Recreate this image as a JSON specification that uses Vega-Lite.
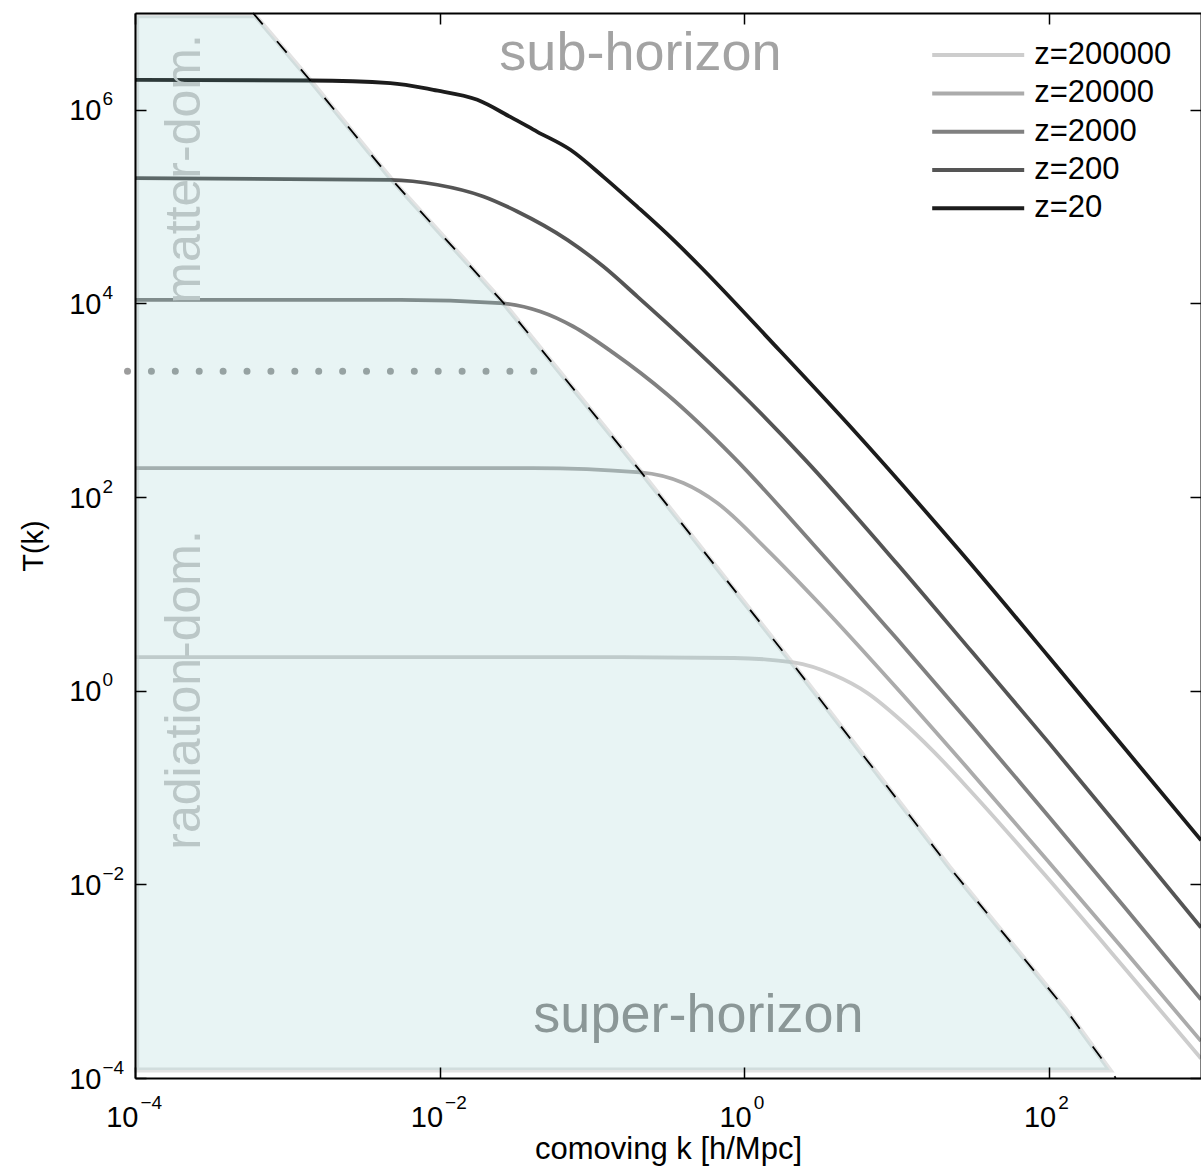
{
  "$schema": "https://vega.github.io/schema/vega-lite/v6.json",
  "width": 1066,
  "height": 1065,
  "autosize": {"type": "none"},
  "padding": {"left": 135, "top": 13, "right": 0, "bottom": 92},
  "background": "white",
  "config": {"view": {"stroke": null}, "font": "Liberation Sans", "axis": {"grid": false}},
  "datasets": {
    "curves": [
      {"z": "z=20", "k": 0.0001, "T": 2042000},
      {"z": "z=20", "k": 0.001413, "T": 2009000},
      {"z": "z=20", "k": 0.004742, "T": 1888000},
      {"z": "z=20", "k": 0.009099, "T": 1607000},
      {"z": "z=20", "k": 0.0177, "T": 1268000},
      {"z": "z=20", "k": 0.02917, "T": 845000},
      {"z": "z=20", "k": 0.04385, "T": 593000},
      {"z": "z=20", "k": 0.07228, "T": 386400},
      {"z": "z=20", "k": 0.1191, "T": 203200},
      {"z": "z=20", "k": 0.1991, "T": 99500},
      {"z": "z=20", "k": 0.3133, "T": 51900},
      {"z": "z=20", "k": 0.5012, "T": 25120},
      {"z": "z=20", "k": 1.585, "T": 3715},
      {"z": "z=20", "k": 4.842, "T": 561},
      {"z": "z=20", "k": 25.59, "T": 28.7},
      {"z": "z=20", "k": 100, "T": 2.244},
      {"z": "z=20", "k": 316.2, "T": 0.2529},
      {"z": "z=20", "k": 1000, "T": 0.02858},
      {"z": "z=200", "k": 0.0001, "T": 197200},
      {"z": "z=200", "k": 0.004742, "T": 189200},
      {"z": "z=200", "k": 0.00966, "T": 168300},
      {"z": "z=200", "k": 0.01936, "T": 127400},
      {"z": "z=200", "k": 0.03236, "T": 89130},
      {"z": "z=200", "k": 0.06902, "T": 45400},
      {"z": "z=200", "k": 0.1191, "T": 24040},
      {"z": "z=200", "k": 0.1991, "T": 11780},
      {"z": "z=200", "k": 0.399, "T": 4365},
      {"z": "z=200", "k": 0.849, "T": 1413},
      {"z": "z=200", "k": 2.512, "T": 243.8},
      {"z": "z=200", "k": 10, "T": 20.84},
      {"z": "z=200", "k": 31.62, "T": 2.477},
      {"z": "z=200", "k": 100, "T": 0.2911},
      {"z": "z=200", "k": 316.2, "T": 0.03266},
      {"z": "z=200", "k": 1000, "T": 0.003581},
      {"z": "z=2000", "k": 0.0001, "T": 10910},
      {"z": "z=2000", "k": 0.005521, "T": 10910},
      {"z": "z=2000", "k": 0.02506, "T": 10090},
      {"z": "z=2000", "k": 0.04581, "T": 8260},
      {"z": "z=2000", "k": 0.07551, "T": 5781},
      {"z": "z=2000", "k": 0.1384, "T": 3090},
      {"z": "z=2000", "k": 0.3126, "T": 1148},
      {"z": "z=2000", "k": 0.849, "T": 260.6},
      {"z": "z=2000", "k": 2.851, "T": 32.43},
      {"z": "z=2000", "k": 10, "T": 3.475},
      {"z": "z=2000", "k": 31.62, "T": 0.4276},
      {"z": "z=2000", "k": 100, "T": 0.05023},
      {"z": "z=2000", "k": 316.2, "T": 0.005768},
      {"z": "z=2000", "k": 1000, "T": 0.0006471},
      {"z": "z=20000", "k": 0.0001, "T": 199.5},
      {"z": "z=20000", "k": 0.0413, "T": 199.5},
      {"z": "z=20000", "k": 0.2084, "T": 179.9},
      {"z": "z=20000", "k": 0.399, "T": 139.6},
      {"z": "z=20000", "k": 0.6668, "T": 86.9},
      {"z": "z=20000", "k": 1.422, "T": 28.38},
      {"z": "z=20000", "k": 3.162, "T": 7.78},
      {"z": "z=20000", "k": 10, "T": 1.074},
      {"z": "z=20000", "k": 31.62, "T": 0.1384},
      {"z": "z=20000", "k": 100, "T": 0.01702},
      {"z": "z=20000", "k": 316.2, "T": 0.002046},
      {"z": "z=20000", "k": 1000, "T": 0.0002404},
      {"z": "z=200000", "k": 0.0001, "T": 2.228},
      {"z": "z=200000", "k": 0.1138, "T": 2.228},
      {"z": "z=200000", "k": 0.8511, "T": 2.178},
      {"z": "z=200000", "k": 2.109, "T": 1.959},
      {"z": "z=200000", "k": 3.864, "T": 1.462},
      {"z": "z=200000", "k": 6.457, "T": 0.9462},
      {"z": "z=200000", "k": 10.64, "T": 0.4989},
      {"z": "z=200000", "k": 17.5, "T": 0.2366},
      {"z": "z=200000", "k": 31.62, "T": 0.0875},
      {"z": "z=200000", "k": 100, "T": 0.01127},
      {"z": "z=200000", "k": 316.2, "T": 0.001355},
      {"z": "z=200000", "k": 1000, "T": 0.0001592}
    ],
    "horizon": [
      {"k": 0.0005957, "T": 10000000},
      {"k": 0.001416, "T": 2009000},
      {"k": 0.004753, "T": 197200},
      {"k": 0.02636, "T": 10070},
      {"k": 0.2094, "T": 183.2},
      {"k": 2.07, "T": 1.923},
      {"k": 22.13, "T": 0.01524},
      {"k": 129.4, "T": 0.0005093},
      {"k": 275.4, "T": 0.0001}
    ],
    "shade": [
      {"k": 0.0001026, "T": 9376000, "T2": 0.0001211},
      {"k": 0.0006166, "T": 9376000, "T2": 0.0001211},
      {"k": 0.001416, "T": 2009000, "T2": 0.0001211},
      {"k": 0.004753, "T": 197200, "T2": 0.0001211},
      {"k": 0.02636, "T": 10070, "T2": 0.0001211},
      {"k": 0.2094, "T": 183.2, "T2": 0.0001211},
      {"k": 2.07, "T": 1.923, "T2": 0.0001211},
      {"k": 22.13, "T": 0.01524, "T2": 0.0001211},
      {"k": 129.4, "T": 0.0005093, "T2": 0.0001211},
      {"k": 251.8, "T": 0.0001211, "T2": 0.0001211}
    ],
    "dots": [
      {"k": 0.0000893, "T": 2000},
      {"k": 0.04285, "T": 2000}
    ]
  },
  "layer": [
    {
      "data": {"name": "shade"},
      "mark": {"type": "area", "fill": "transparent", "stroke": "#e3e3e3", "strokeWidth": 5, "strokeJoin": "miter"},
      "encoding": {
        "x": {"field": "k", "type": "quantitative", "scale": {"type": "log", "domain": [0.0001, 1000], "nice": false},
          "axis": {"orient": "top", "values": [0.0001, 0.01, 1, 100], "labels": false, "title": null, "tickSize": -11, "tickColor": "black", "tickWidth": 1.5, "domain": true, "domainColor": "black", "domainWidth": 2, "zindex": 2}},
        "y": {"field": "T", "type": "quantitative", "scale": {"type": "log", "domain": [0.0001, 10000000], "nice": false},
          "axis": {"orient": "right", "values": [0.0001, 0.01, 1, 100, 10000, 1000000], "labels": false, "title": null, "tickSize": -11, "tickColor": "black", "tickWidth": 1.5, "domain": true, "domainColor": "black", "domainWidth": 2, "zindex": 2}},
        "y2": {"field": "T2"}
      }
    },
    {
      "data": {"name": "dots"},
      "mark": {"type": "line", "color": "#9c9c9c", "strokeWidth": 7, "strokeCap": "round", "strokeDash": [0, 23.9], "clip": false},
      "encoding": {
        "x": {"field": "k", "type": "quantitative", "axis": null},
        "y": {"field": "T", "type": "quantitative", "axis": null}
      }
    },
    {
      "data": {"name": "curves"},
      "mark": {"type": "line", "strokeWidth": 3.8, "interpolate": "monotone"},
      "encoding": {
        "x": {"field": "k", "type": "quantitative",
          "axis": {"orient": "bottom", "values": [0.0001, 0.01, 1, 100], "labelExpr": "'10'", "labelAlign": "right", "labelBaseline": "top",
            "labelOffset": {"condition": {"test": "datum.value < 0.1", "value": 3}, "value": 7},
            "labelFontSize": 29, "labelColor": "black", "labelPadding": 36, "labelFlush": false, "labelOverlap": false,
            "tickSize": -11, "tickColor": "black", "tickWidth": 1.5, "domain": true, "domainColor": "black", "domainWidth": 2,
            "title": "comoving k [h/Mpc]", "titleFontSize": 31, "titleFontWeight": "normal", "titleColor": "black", "titlePadding": 2, "zindex": 2}},
        "y": {"field": "T", "type": "quantitative",
          "axis": {"orient": "left", "values": [0.0001, 0.01, 1, 100, 10000, 1000000], "labelExpr": "'10'", "labelAlign": "right", "labelBaseline": "middle",
            "labelOffset": 1,
            "labelFontSize": 29, "labelColor": "black", "labelPadding": 45, "labelFlush": false, "labelOverlap": false,
            "tickSize": -11, "tickColor": "black", "tickWidth": 1.5, "domain": true, "domainColor": "black", "domainWidth": 2,
            "title": "T(k)", "titleFontSize": 29, "titleFontWeight": "normal", "titleColor": "black", "titlePadding": 20, "zindex": 2}},
        "color": {"field": "z", "type": "nominal",
          "scale": {"domain": ["z=200000", "z=20000", "z=2000", "z=200", "z=20"], "range": ["#cdcdcd", "#ababab", "#808080", "#555555", "#1c1c1c"]},
          "legend": {"orient": "none", "legendX": 827.7, "legendY": 26.6, "title": null, "padding": 0,
            "symbolType": "M-4,0H4", "symbolSize": 529, "symbolStrokeWidth": 4, "symbolOffset": 0,
            "labelFontSize": 31, "labelColor": "black", "labelOffset": 40.5, "rowPadding": 6.3}}
      }
    },
    {
      "data": {"values": [{"label": "sub-horizon", "k": 0.2085, "T": 3750000}]},
      "mark": {"type": "text", "fontSize": 54, "color": "#a3a3a3", "align": "center", "baseline": "middle"},
      "encoding": {
        "x": {"field": "k", "type": "quantitative", "axis": null},
        "y": {"field": "T", "type": "quantitative", "axis": null},
        "text": {"field": "label"}
      }
    },
    {
      "data": {"values": [{"label": "super-horizon", "k": 0.501, "T": 0.000433}]},
      "mark": {"type": "text", "fontSize": 54, "color": "#8e8e8e", "align": "center", "baseline": "middle"},
      "encoding": {
        "x": {"field": "k", "type": "quantitative", "axis": null},
        "y": {"field": "T", "type": "quantitative", "axis": null},
        "text": {"field": "label"}
      }
    },
    {
      "data": {"values": [{"label": "matter-dom.", "k": 0.000214, "T": 245000}, {"label": "radiation-dom.", "k": 0.000214, "T": 1.02}]},
      "mark": {"type": "text", "fontSize": 50, "color": "#c8c8c8", "align": "center", "baseline": "middle", "angle": 270},
      "encoding": {
        "x": {"field": "k", "type": "quantitative", "axis": null},
        "y": {"field": "T", "type": "quantitative", "axis": null},
        "text": {"field": "label"}
      }
    },
    {
      "data": {"name": "shade"},
      "mark": {"type": "area", "fill": "#7fc4c4", "fillOpacity": 0.18},
      "encoding": {
        "x": {"field": "k", "type": "quantitative", "axis": null},
        "y": {"field": "T", "type": "quantitative", "axis": null},
        "y2": {"field": "T2"}
      }
    },
    {
      "data": {"name": "horizon"},
      "mark": {"type": "line", "color": "black", "strokeWidth": 1.8, "strokeDash": [15, 22]},
      "encoding": {
        "x": {"field": "k", "type": "quantitative",
          "axis": {"orient": "bottom", "values": [0.0001, 0.01, 1, 100], "labelExpr": "datum.value < 0.001 ? '−4' : datum.value < 0.1 ? '−2' : datum.value < 10 ? '0' : '2'",
            "labelAlign": "left", "labelBaseline": "top",
            "labelOffset": {"condition": {"test": "datum.value < 0.1", "value": 5}, "value": 9},
            "labelFontSize": 19, "labelColor": "black", "labelPadding": 15, "labelFlush": false, "labelOverlap": false,
            "ticks": false, "tickSize": 0, "domain": false, "title": null, "zindex": 2}},
        "y": {"field": "T", "type": "quantitative",
          "axis": {"orient": "left", "values": [0.0001, 0.01, 1, 100, 10000, 1000000], "labelExpr": "datum.value < 0.001 ? '−4' : datum.value < 0.1 ? '−2' : datum.value < 10 ? '0' : datum.value < 1000 ? '2' : datum.value < 100000 ? '4' : '6'",
            "labelAlign": "left", "labelBaseline": "middle",
            "labelOffset": -11,
            "labelFontSize": 19, "labelColor": "black", "labelPadding": 33, "labelFlush": false, "labelOverlap": false,
            "ticks": false, "tickSize": 0, "domain": false, "title": null, "zindex": 2}}
      }
    }
  ],
  "resolve": {"axis": {"x": "independent", "y": "independent"}}
}
